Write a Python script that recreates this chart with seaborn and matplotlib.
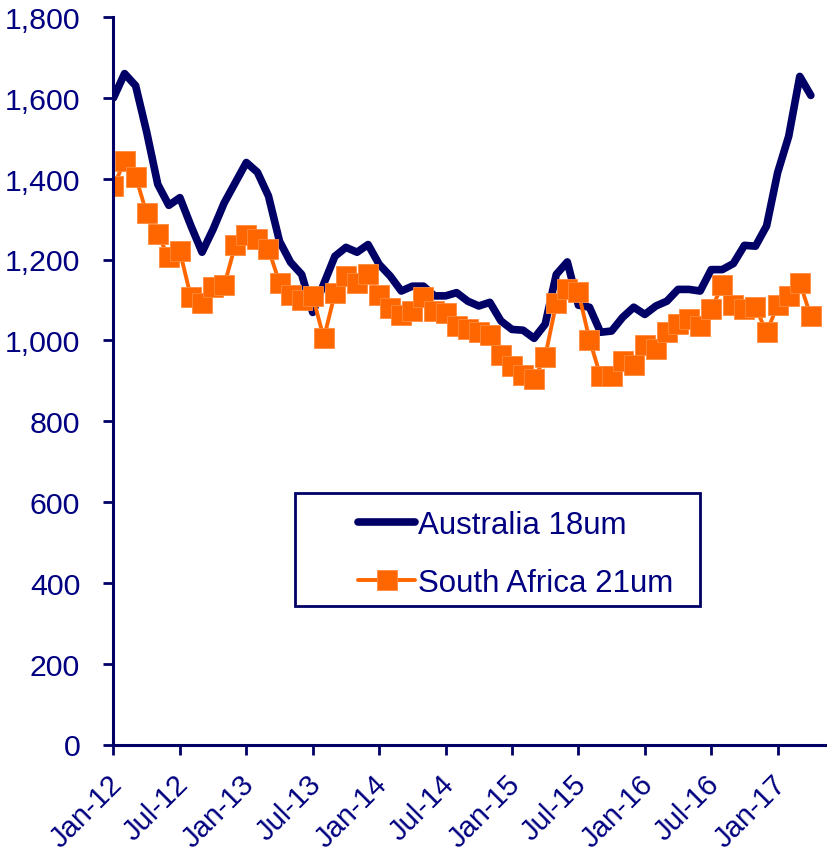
import matplotlib
matplotlib.use("Agg")
import matplotlib.pyplot as plt
import matplotlib.transforms as mtransforms
from matplotlib.patches import Rectangle
import seaborn as sns
import pandas as pd
import numpy as np

# Monthly wool prices, Jan-12 .. Apr-17
australia_18um = [
    1600, 1660, 1630, 1515, 1386, 1334, 1353, 1283, 1218, 1275,
    1340, 1390, 1440, 1416, 1357, 1245, 1193, 1163, 1069, 1140,
    1208, 1230, 1218, 1237, 1188, 1159, 1122, 1134, 1134, 1110,
    1110, 1118, 1097, 1085, 1094, 1048, 1027, 1025, 1005, 1040,
    1163, 1194, 1087, 1082, 1020, 1023, 1057, 1082, 1064, 1085,
    1097, 1126, 1126, 1122, 1175, 1175, 1190, 1235, 1233, 1283,
    1415, 1505, 1653, 1606,
]
south_africa_21um = [
    1381, 1443, 1405, 1314, 1262, 1205, 1220, 1106, 1092, 1131,
    1136, 1235, 1260, 1250, 1225, 1143, 1111, 1101, 1109, 1005,
    1116, 1160, 1143, 1163, 1111, 1079, 1062, 1072, 1106, 1072,
    1067, 1035, 1027, 1020, 1012, 963, 936, 913, 904, 960,
    1092, 1126, 1119, 1002, 911, 911, 948, 938, 988, 978,
    1020, 1040, 1052, 1035, 1077, 1136, 1087, 1077, 1082, 1020,
    1087, 1109, 1143, 1059,
]
tick_labels = ["Jan-12", "Jul-12", "Jan-13", "Jul-13", "Jan-14", "Jul-14",
               "Jan-15", "Jul-15", "Jan-16", "Jul-16", "Jan-17"]
series_names = ["Australia 18um", "South Africa 21um"]

months = np.arange(len(australia_18um))
df = pd.DataFrame({"month": months,
                   series_names[0]: australia_18um,
                   series_names[1]: south_africa_21um})

NAVY = "#000066"
TEXT = "#000080"
ORANGE = "#FF6600"

sns.set_theme(style="white")
plt.rcParams["font.family"] = ["Liberation Sans", "DejaVu Sans"]

fig = plt.figure(figsize=(8.28, 8.53), dpi=100)
ax = fig.add_axes([113.5 / 828, (853 - 745.5) / 853, 714.5 / 828, 727.5 / 853])

sns.lineplot(data=df, x="month", y=series_names[0], ax=ax, color=NAVY,
             linewidth=5.5, label=series_names[0], solid_capstyle="round",
             solid_joinstyle="round")
sns.lineplot(data=df, x="month", y=series_names[1], ax=ax, color=ORANGE,
             linewidth=2.8, marker="s", markersize=14.3, markeredgewidth=0.6,
             markeredgecolor="#FF8A3D", label=series_names[1])

ax.set_xlim(0, 64.55)
ax.set_ylim(0, 1800)
ax.set_xlabel("")
ax.set_ylabel("")
ax.set_xticks(np.arange(0, 6 * len(tick_labels), 6))
ax.set_xticklabels(tick_labels, rotation=45, ha="right", rotation_mode="anchor")
ax.set_yticks(np.arange(0, 1801, 200))
ax.yaxis.set_major_formatter(matplotlib.ticker.FuncFormatter(lambda v, p: f"{int(v):,}"))

for side in ("top", "right"):
    ax.spines[side].set_visible(False)
for side in ("left", "bottom"):
    ax.spines[side].set_color(NAVY)
    ax.spines[side].set_linewidth(2.2)
ax.tick_params(axis="both", direction="out", length=7, width=2, color=NAVY,
               labelcolor=TEXT, bottom=True, left=True)
ax.tick_params(axis="y", pad=17, labelsize=21.8)
ax.tick_params(axis="x", pad=11, labelsize=21)
ax.grid(False)

# nudge the rotated month labels slightly left
shift = mtransforms.ScaledTranslation(-6 / 100, 0, fig.dpi_scale_trans)
for lbl in ax.get_xticklabels():
    lbl.set_transform(lbl.get_transform() + shift)

# Legend box
ax.add_patch(Rectangle((0.254, 0.19), 0.567, 0.156, transform=ax.transAxes,
                       fill=True, facecolor="white", edgecolor=NAVY,
                       linewidth=2, zorder=5))
leg = ax.legend(loc="upper left", bbox_to_anchor=(0.303, 0.361), frameon=False,
                fontsize=22.5, handlelength=1.82, handletextpad=0.1,
                labelspacing=0.91, labelcolor=TEXT)
leg.set_zorder(6)

fig.savefig("out.png", dpi=100, facecolor="white")
